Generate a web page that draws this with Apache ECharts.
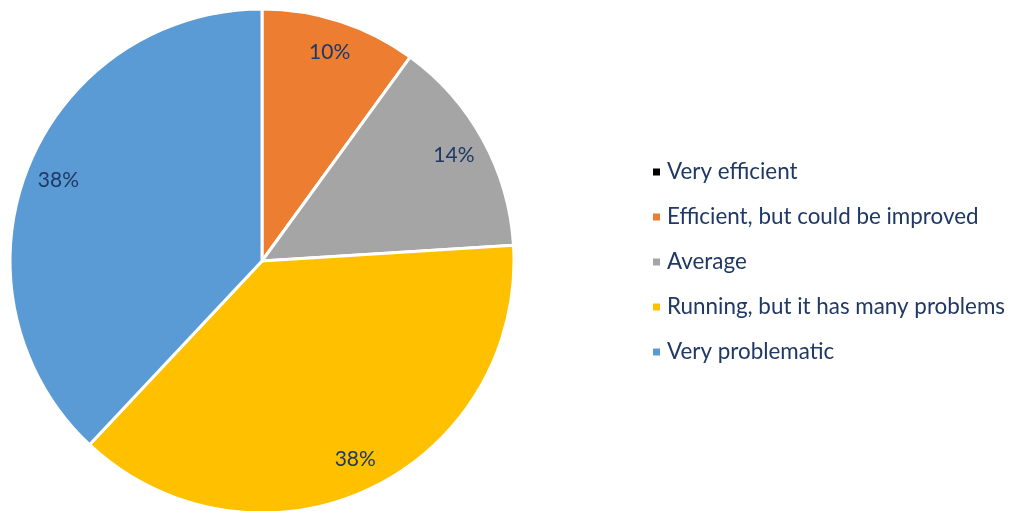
<!DOCTYPE html>
<html>
<head>
<meta charset="utf-8">
<script src="https://cdn.jsdelivr.net/npm/echarts@6/dist/echarts.min.js"></script>
<style>html,body{margin:0;padding:0;background:#fff;}#c{width:1009px;height:511px;}</style>
</head>
<body>
<div id="c"></div>
<script>
const categories = ['Very efficient', 'Efficient, but could be improved', 'Average', 'Running, but it has many problems', 'Very problematic'];
const values = [0, 10, 14, 38, 38];
const colors = ['#000000', '#ED7D31', '#A5A5A5', '#FFC000', '#5B9BD5'];

const textColor = '#1F3864';
const fontFam = 'Lato, "Open Sans", sans-serif';

const pieData = categories.map((c, i) => ({ name: c, value: values[i], itemStyle: { color: colors[i] } }));
const labelData = categories.map((c, i) => ({
  name: c, value: values[i],
  label: { show: values[i] > 0 }
}));

const chart = echarts.init(document.getElementById('c'), null, { renderer: 'canvas' });
chart.setOption({
  animation: false,
  legend: {
    orient: 'vertical',
    left: 646,
    top: 156,
    itemWidth: 9,
    itemHeight: 9,
    itemGap: 23,
    icon: 'rect',
    data: categories,
    textStyle: { color: textColor, fontSize: 22.4, fontFamily: fontFam, lineHeight: 20, padding: [0, 0, 0, 1] }
  },
  series: [
    {
      type: 'pie',
      center: [262, 261],
      radius: [0, 252],
      startAngle: 90,
      clockwise: true,
      silent: true,
      label: { show: false },
      labelLine: { show: false },
      itemStyle: { borderColor: '#ffffff', borderWidth: 3 },
      data: pieData
    },
    {
      type: 'pie',
      center: [262, 261],
      radius: [180, 252],
      startAngle: 90,
      clockwise: true,
      silent: true,
      itemStyle: { color: 'rgba(0,0,0,0)', borderWidth: 0 },
      labelLine: { show: false },
      label: {
        position: 'inside',
        formatter: '{c}%',
        color: textColor,
        fontSize: 21,
        fontFamily: fontFam
      },
      data: labelData
    }
  ]
});
</script>
</body>
</html>
